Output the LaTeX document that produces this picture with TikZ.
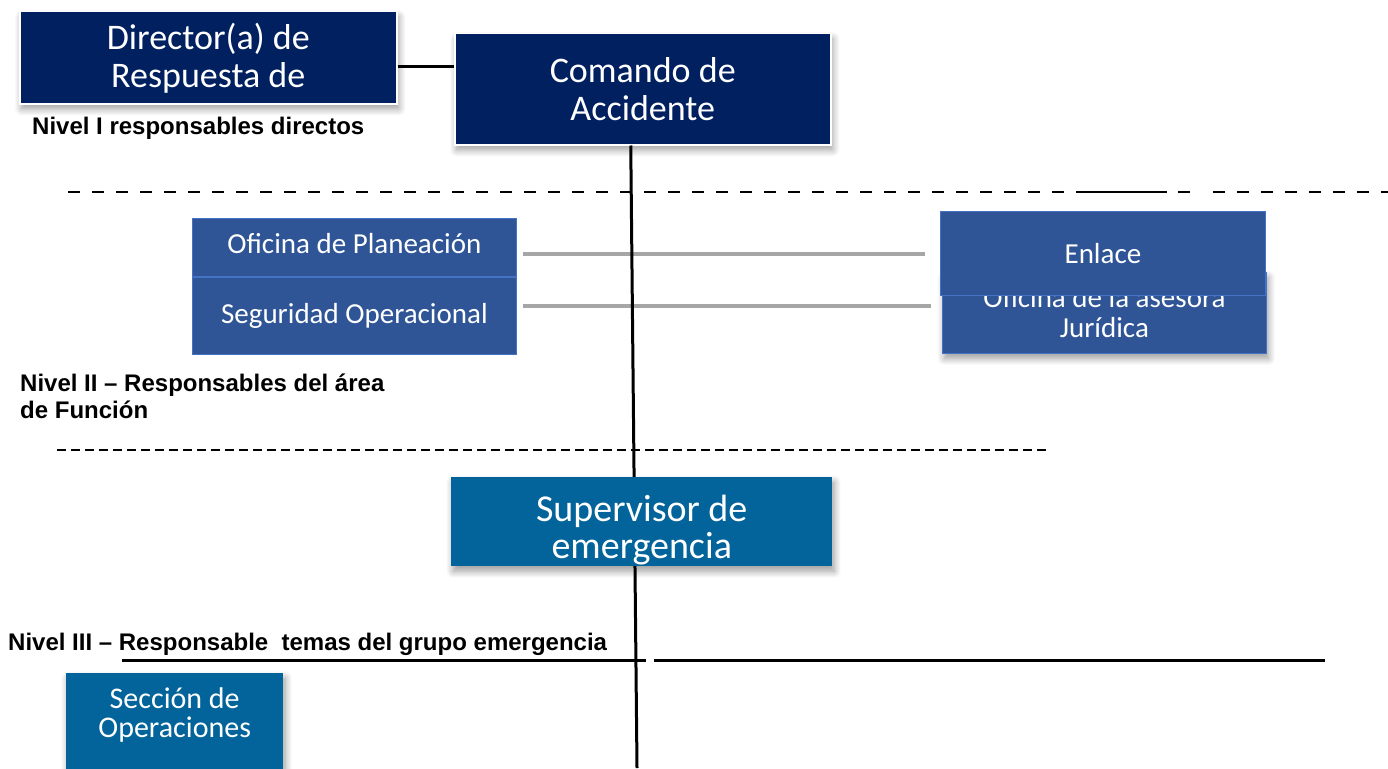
\documentclass[tikz,border=0pt]{standalone}
\usepackage{fontspec}
\setmainfont{Carlito}
\newfontfamily\nivelfont{Liberation Sans}
\usepackage{tikz}
\usetikzlibrary{positioning,calc,shadows.blur}
\definecolor{navyfill}{HTML}{002060}
\definecolor{areafill}{HTML}{2F5597}
\definecolor{areaedge}{HTML}{4472C4}
\definecolor{tealfill}{HTML}{02649A}
\definecolor{linkgray}{HTML}{A6A6A6}
\tikzset{
  boxbase/.style={rectangle,inner sep=0pt,text=white,align=center},
  softshadow/.style={blur shadow={shadow xshift=2pt,shadow yshift=-5pt,shadow blur radius=7pt,shadow blur steps=10,shadow opacity=40}},
  navybox/.style={boxbase,fill=navyfill,draw=white,line width=1.5pt,softshadow,font=\fontsize{36}{38}\selectfont},
  areabox/.style={boxbase,fill=areafill,draw=areaedge,line width=0.8pt,font=\fontsize{29}{30}\selectfont},
  tealbox/.style={boxbase,fill=tealfill,softshadow},
  boxtext/.style={text=white,align=center,inner sep=0pt},
  nivel/.style={anchor=west,align=left,inner sep=0pt,font=\nivelfont\bfseries\fontsize{24}{27}\selectfont},
  link/.style={line width=3pt},
  graylink/.style={line width=4pt,color=linkgray},
  sepline/.style={line width=2.5pt,dash pattern=on 12pt off 12pt}
}

\begin{document}
\begin{tikzpicture}[x=1pt,y=-1pt]
  \useasboundingbox (0,0) rectangle (1388,768);
  % Nivel I
  \node[navybox, anchor=north west, minimum width=377pt, minimum height=92pt] (dir) at (19,11) {Director(a) de\\Respuesta de};
  \node[navybox, anchor=north west, minimum width=376pt, minimum height=111pt] (com) at (454,33) {Comando de\\Accidente};
  \coordinate (lvl1) at (0,66);
  \draw[link] (dir.east |- lvl1) -- (com.west |- lvl1);
  \node[nivel] (n1) at (32,128) {Nivel I responsables directos};
  % Nivel II
  \node[areabox, anchor=north west, minimum width=324pt, minimum height=58pt, text depth=8pt] (plan) at (192,218) {Oficina de Planeación};
  \node[areabox, below=0pt of plan, minimum width=324pt, minimum height=77pt] (seg) {Seguridad Operacional};
  \node[areabox, softshadow, anchor=north west, minimum width=324pt, minimum height=81pt] (jur) at (942,272) {Oficina de la asesora\\Jurídica};
  \node[areabox, anchor=north west, minimum width=325pt, minimum height=84pt] (enl) at (940,211) {Enlace};
  \coordinate (g1) at (0,254);
  \coordinate (g2) at (0,306);
  \draw[graylink] ([xshift=6pt]plan.east |- g1) -- ([xshift=-15pt]enl.west |- g1);
  \draw[graylink] ([xshift=6pt]seg.east |- g2) -- ([xshift=-11pt]jur.west |- g2);
  \node[nivel] (n2) at (20,396) {Nivel II – Responsables del área\\de Función};
  % separadores
  \draw[sepline] (68,192) -- (1085,192);
  \draw[line width=2.5pt] (1085,192) -- (1167,192);
  \draw[line width=2.5pt] (1178,192) -- (1190,192);
  \draw[sepline] (1213,192) -- (1388,192);
  \draw[line width=2.5pt,dash pattern=on 9pt off 5pt] (57,450) -- (1047,450);
  % linea vertical
  \coordinate (vbot) at (637,768);
  \draw[link] ([xshift=-12pt]com.south) -- (vbot);
  % Nivel III
  \node[tealbox, anchor=north west, minimum width=381pt, minimum height=89pt] (sup) at (451,477) {};
  \begin{scope}
    \clip (sup.south west) rectangle (sup.north east);
    \node[boxtext, font=\fontsize{38}{37}\selectfont] (suptxt) at ([yshift=-8pt]sup.center) {Supervisor de\\emergencia};
  \end{scope}
  \node[nivel] (n3) at (8,644) {Nivel III – Responsable\ \ temas del grupo emergencia};
  \coordinate (h1) at (122,660);
  \coordinate (h2) at (646,660);
  \coordinate (h3) at (654,660);
  \coordinate (h4) at (1325,660);
  \draw[link] (h1) -- (h2);
  \draw[link] (h3) -- (h4);
  \node[tealbox, anchor=north west, minimum width=217pt, minimum height=130pt] (sec) at (66,673) {};
  \node[boxtext, anchor=north, font=\fontsize{30}{29}\selectfont] (sectxt) at ([yshift=-14pt]sec.north) {Sección de\\Operaciones};
\end{tikzpicture}
\end{document}
